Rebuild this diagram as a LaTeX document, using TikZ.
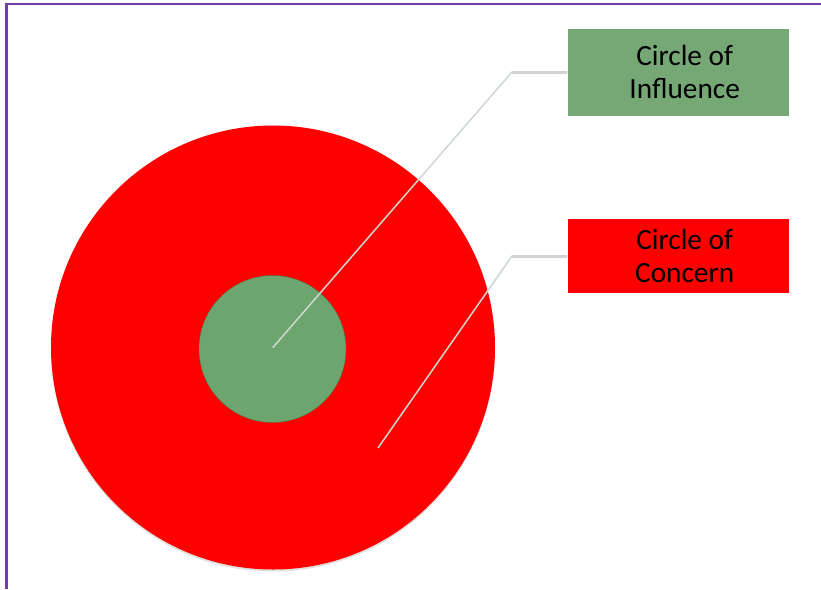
\documentclass[tikz,border=0pt]{standalone}
\usepackage{fontspec}
\setmainfont{Carlito}
\usetikzlibrary{positioning}
\usetikzlibrary{shadows}
\definecolor{concernred}{RGB}{255,0,0}
\definecolor{influencegreen}{RGB}{118,168,118}
\definecolor{ringgreen}{RGB}{108,166,110}
\definecolor{framepurple}{RGB}{116,60,170}
\definecolor{leadergray}{RGB}{206,216,206}

\tikzset{
  labelbox/.style={minimum width=66.3mm, inner sep=0pt, align=center, font=\fontsize{25}{28}\selectfont},
  leader/.style={leadergray, line width=0.45mm},
  leadershade/.style={black!35, line width=0.9mm, opacity=0.5, yshift=-0.5mm},
}

\begin{document}
\begin{tikzpicture}[x=0.3mm, y=-0.3mm]
\useasboundingbox (0,0) rectangle (821,589);

% frame, only two edges show
\draw[framepurple, line width=0.7mm] (6.5,589)--(6.5,4)--(821,4);

% circles
\node[circle, fill=concernred, minimum size=133.2mm, inner sep=0pt,
      drop shadow={opacity=0.25, shadow xshift=0mm, shadow yshift=-0.6mm}] (concern) at (273,347.5) {};
\node[circle, fill=ringgreen, draw=ringgreen!70!black, line width=0.3pt, minimum size=44.1mm, inner sep=0pt] (influence) at (272.5,349) {};

% labels
\node[labelbox, fill=influencegreen, minimum height=26.1mm] (influence box) at (678,72) {\hspace*{4mm}Circle of\\\hspace*{4mm}Influence};
\node[labelbox, fill=concernred, minimum height=22.2mm] (concern box) at (678,256) {\hspace*{4mm}Circle of\\\hspace*{4mm}Concern};

% leaders
\coordinate (influence end) at (272.7,347.7);
\coordinate (influence bend) at (512,72);
\coordinate (concern end) at (378,448);
\coordinate (concern bend) at (512,256);

\draw[leadershade] (influence bend)--(influence box.west);
\draw[leadershade] (concern bend)--(concern box.west);
\draw[leader] (influence end)--(influence bend)--(influence box.west);
\draw[leader] (concern end)--(concern bend)--(concern box.west);

\end{tikzpicture}
\end{document}
